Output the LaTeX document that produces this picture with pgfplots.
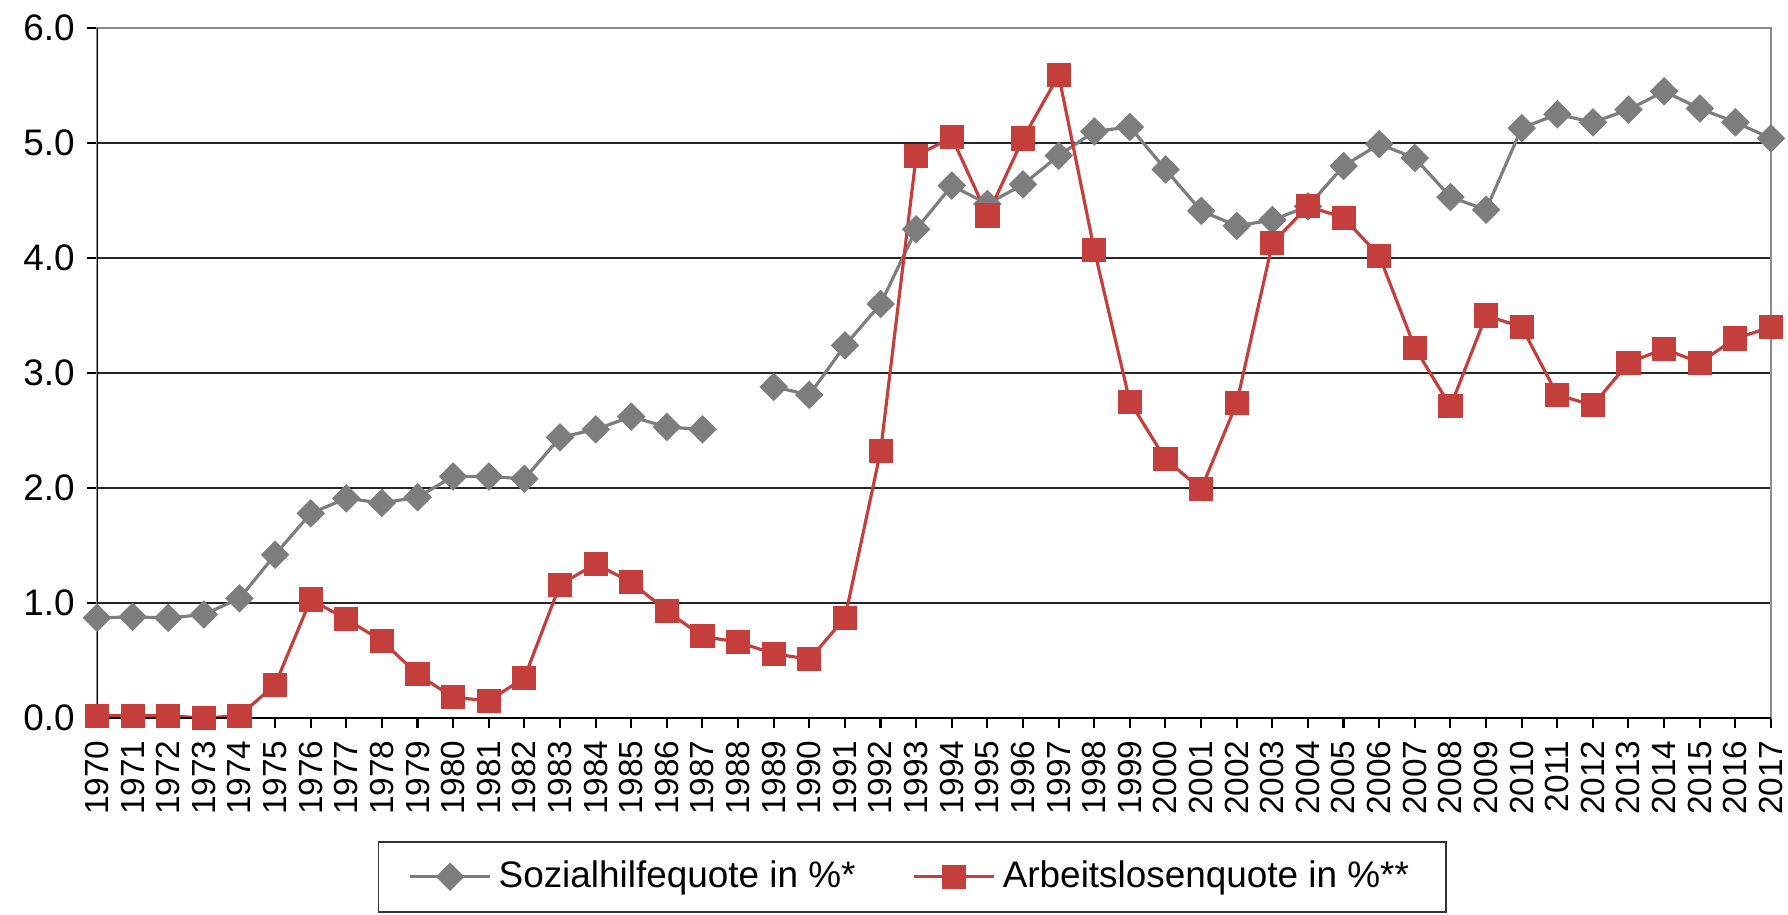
\documentclass[border=0pt]{standalone}
\usepackage{fontspec}
\setmainfont{Liberation Sans}
\usepackage{pgfplots}
\pgfplotsset{compat=1.18}
\definecolor{sozgray}{RGB}{125,125,125}
\definecolor{alqred}{RGB}{196,62,60}
\begin{document}
\begin{tikzpicture}
\begin{axis}[
  at={(0,0)}, anchor=south west,
  scale only axis, width=167.4mm, height=69mm,
  xmin=1970, xmax=2017, ymin=0, ymax=6,
  xtick={1970,...,2017}, ytick={0,1,...,6},
  tick align=outside, major tick length=1mm,
  tick style={black, line width=0.6pt},
  x tick label style={rotate=90, anchor=east, font=\fontsize{9.5}{11}\selectfont,
    /pgf/number format/1000 sep={}},
  y tick label style={font=\fontsize{10.5}{12}\selectfont,
    /pgf/number format/.cd, fixed, fixed zerofill, precision=1},
  /pgf/number format/assume math mode=true,
  xtick pos=bottom, ytick pos=left,
  ymajorgrids, grid style={black!85, line width=0.6pt},
  axis line style={black!45, line width=0.8pt},
  unbounded coords=jump,
  legend style={at={(0.487,-0.178)}, anchor=north, legend columns=2,
    draw=black!80, line width=0.5pt, font=\fontsize{10.5}{12}\selectfont,
    inner xsep=3mm, inner ysep=1.2mm,
    /tikz/every even column/.append style={column sep=5mm}},
  legend image code/.code={
    \draw[mark repeat=2,mark phase=2] plot coordinates {(0cm,0cm)(0.4cm,0cm)(0.8cm,0cm)};},
]
\addplot[sozgray, line width=0.9pt, mark=square*, mark size=0.85mm,
  mark options={rotate=45, fill=sozgray, draw=sozgray}] coordinates {
  (1970,0.87) (1971,0.88) (1972,0.87) (1973,0.90) (1974,1.04) (1975,1.42)
  (1976,1.78) (1977,1.91) (1978,1.87) (1979,1.92) (1980,2.10) (1981,2.10)
  (1982,2.08) (1983,2.44) (1984,2.51) (1985,2.62) (1986,2.53) (1987,2.51)
  (1988,nan) (1989,2.88) (1990,2.81) (1991,3.24) (1992,3.60) (1993,4.25)
  (1994,4.63) (1995,4.47) (1996,4.64) (1997,4.89) (1998,5.10) (1999,5.14)
  (2000,4.77) (2001,4.41) (2002,4.28) (2003,4.33) (2004,4.45) (2005,4.80)
  (2006,4.99) (2007,4.87) (2008,4.53) (2009,4.42) (2010,5.13) (2011,5.25)
  (2012,5.18) (2013,5.29) (2014,5.45) (2015,5.30) (2016,5.18) (2017,5.04)};
\addplot[alqred, line width=0.9pt, mark=square*, mark size=1.05mm,
  mark options={fill=alqred, draw=alqred}] coordinates {
  (1970,0.02) (1971,0.02) (1972,0.02) (1973,0.00) (1974,0.02) (1975,0.29)
  (1976,1.03) (1977,0.86) (1978,0.67) (1979,0.38) (1980,0.18) (1981,0.15)
  (1982,0.35) (1983,1.16) (1984,1.34) (1985,1.18) (1986,0.93) (1987,0.71)
  (1988,0.66) (1989,0.56) (1990,0.51) (1991,0.87) (1992,2.32) (1993,4.89)
  (1994,5.05) (1995,4.37) (1996,5.04) (1997,5.59) (1998,4.07) (1999,2.75)
  (2000,2.25) (2001,1.99) (2002,2.74) (2003,4.13) (2004,4.45) (2005,4.35)
  (2006,4.02) (2007,3.22) (2008,2.71) (2009,3.50) (2010,3.40) (2011,2.81)
  (2012,2.72) (2013,3.09) (2014,3.21) (2015,3.09) (2016,3.30) (2017,3.40)};
\legend{Sozialhilfequote in \%*, Arbeitslosenquote in \%**}
\draw[black, line width=0.8pt] (rel axis cs:0,0) -- (rel axis cs:0,1);
\draw[black, line width=0.8pt] (rel axis cs:0,0) -- (rel axis cs:1,0);
\end{axis}
\pgfresetboundingbox
\path[use as bounding box] (-9.7mm,-19.6mm) rectangle (169.1mm,71.8mm);
\end{tikzpicture}
\end{document}
